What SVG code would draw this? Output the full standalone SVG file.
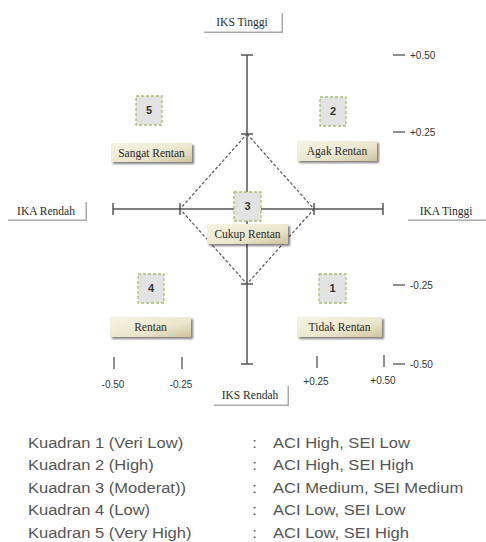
<svg xmlns="http://www.w3.org/2000/svg" width="486" height="542" viewBox="0 0 486 542">
<defs>
<linearGradient id="beige" x1="0" y1="0" x2="1" y2="1">
<stop offset="0" stop-color="#f6f4e4"/>
<stop offset="0.6" stop-color="#ebe6cc"/>
<stop offset="1" stop-color="#cfc3a0"/>
</linearGradient>
<filter id="sh" x="-20%" y="-30%" width="150%" height="180%">
<feGaussianBlur in="SourceAlpha" stdDeviation="1"/>
<feOffset dx="1.5" dy="1.5"/>
<feComponentTransfer><feFuncA type="linear" slope="0.5"/></feComponentTransfer>
<feMerge><feMergeNode/><feMergeNode in="SourceGraphic"/></feMerge>
</filter>
</defs>
<style>
.axis{stroke:#555;stroke-width:1.5;fill:none}
.dash{stroke:#555;stroke-width:1.2;fill:none;stroke-dasharray:3 2}
.albox{fill:#fff;stroke:#fff}
.alsh{fill:none;stroke:#aaa;stroke-width:2}
.lbl{font-family:"Liberation Serif",serif;font-size:11.5px;fill:#2a2a2a;text-anchor:middle}
.qbox{fill:#e3e3e3;stroke:#a8c070;stroke-width:1.3;stroke-dasharray:3 2}
.qnum{font-family:"Liberation Sans",sans-serif;font-size:11px;fill:#333;text-anchor:middle;font-weight:bold}
.cat{fill:url(#beige);filter:url(#sh)}
.sc{font-family:"Liberation Sans",sans-serif;font-size:10px;fill:#333}
.tick{stroke:#444;stroke-width:1.2}
.leg{font-family:"Liberation Sans",Arial,sans-serif;font-size:15.5px;fill:#555}
</style>
<g id="connectors">
<line class="axis" x1="247" y1="55" x2="247" y2="364"/>
<line class="axis" x1="113" y1="209" x2="383" y2="209"/>
<line class="axis" x1="241" y1="55" x2="253" y2="55"/>
<line class="axis" x1="241" y1="364" x2="253" y2="364"/>
<line class="axis" x1="241" y1="134" x2="253" y2="134"/>
<line class="axis" x1="241" y1="284" x2="253" y2="284"/>
<line class="axis" x1="113" y1="203" x2="113" y2="215"/>
<line class="axis" x1="383" y1="203" x2="383" y2="215"/>
<line class="axis" x1="180" y1="203" x2="180" y2="215"/>
<line class="axis" x1="314" y1="203" x2="314" y2="215"/>
<polygon class="dash" points="247,134 314,209 247,284 180,209"/>
</g>
<g id="iks-tinggi">
<polyline class="alsh" points="282,13 282,32 204,32"/>
<rect class="albox" x="203" y="12" width="78" height="19"/>
<text class="lbl" x="242" y="25.5">IKS Tinggi</text>
</g>
<g id="iks-rendah">
<polyline class="alsh" points="288,386 288,405 214,405"/>
<rect class="albox" x="213" y="385" width="74" height="19"/>
<text class="lbl" x="250" y="398.5">IKS Rendah</text>
</g>
<g id="ika-rendah">
<polyline class="alsh" points="86,202 86,220 8,220"/>
<rect class="albox" x="7" y="201" width="78" height="18"/>
<text class="lbl" x="46" y="214.5">IKA Rendah</text>
</g>
<g id="ika-tinggi">
<polyline class="alsh" points="408,220 486,220"/>
<rect class="albox" x="407" y="201" width="79" height="18"/>
<text class="lbl" x="446" y="214.5">IKA Tinggi</text>
</g>
<g id="q5">
<rect class="qbox" x="136" y="96" width="26" height="29"/>
<text class="qnum" x="149" y="114">5</text>
</g>
<g id="q2">
<rect class="qbox" x="320" y="97" width="26" height="29"/>
<text class="qnum" x="333" y="115">2</text>
</g>
<g id="q3">
<rect class="qbox" x="234" y="192" width="27" height="29"/>
<text class="qnum" x="247.5" y="210">3</text>
</g>
<g id="q4">
<rect class="qbox" x="138" y="274" width="26" height="29"/>
<text class="qnum" x="151" y="292">4</text>
</g>
<g id="q1">
<rect class="qbox" x="319" y="274" width="27" height="29"/>
<text class="qnum" x="332.5" y="292">1</text>
</g>
<g id="sangat-rentan">
<rect class="cat" x="111" y="143" width="81" height="19"/>
<text class="lbl" x="151.5" y="156.5">Sangat Rentan</text>
</g>
<g id="agak-rentan">
<rect class="cat" x="297" y="141" width="80" height="20"/>
<text class="lbl" x="337" y="155">Agak Rentan</text>
</g>
<g id="cukup-rentan">
<rect class="cat" x="207" y="224" width="81" height="20"/>
<text class="lbl" x="247.5" y="238">Cukup Rentan</text>
</g>
<g id="rentan">
<rect class="cat" x="110" y="317" width="81" height="20"/>
<text class="lbl" x="150.5" y="331">Rentan</text>
</g>
<g id="tidak-rentan">
<rect class="cat" x="297" y="317" width="85" height="20"/>
<text class="lbl" x="339.5" y="331">Tidak Rentan</text>
</g>
<g id="scale">
<line class="tick" x1="393" y1="55" x2="405" y2="55"/>
<text class="sc" x="410" y="59">+0.50</text>
<line class="tick" x1="393" y1="132" x2="405" y2="132"/>
<text class="sc" x="410" y="136">+0.25</text>
<line class="tick" x1="393" y1="285" x2="405" y2="285"/>
<text class="sc" x="410" y="289">-0.25</text>
<line class="tick" x1="393" y1="364" x2="405" y2="364"/>
<text class="sc" x="410" y="368">-0.50</text>
<line class="tick" x1="114" y1="357" x2="114" y2="369"/>
<line class="tick" x1="182" y1="357" x2="182" y2="369"/>
<line class="tick" x1="317" y1="356" x2="317" y2="368"/>
<line class="tick" x1="384" y1="355" x2="384" y2="367"/>
<text class="sc" x="113" y="388" text-anchor="middle">-0.50</text>
<text class="sc" x="181" y="388" text-anchor="middle">-0.25</text>
<text class="sc" x="316" y="385" text-anchor="middle">+0.25</text>
<text class="sc" x="383" y="384" text-anchor="middle">+0.50</text>
</g>
<g id="legend" transform="scale(1.067,1)">
<text class="leg" x="26.2" y="448">Kuadran 1 (Veri Low)</text>
<text class="leg" x="26.2" y="470.5">Kuadran 2 (High)</text>
<text class="leg" x="26.2" y="493">Kuadran 3 (Moderat))</text>
<text class="leg" x="26.2" y="515.5">Kuadran 4 (Low)</text>
<text class="leg" x="26.2" y="538">Kuadran 5 (Very High)</text>
<text class="leg" x="236.5" y="448">:</text>
<text class="leg" x="236.5" y="470.5">:</text>
<text class="leg" x="236.5" y="493">:</text>
<text class="leg" x="236.5" y="515.5">:</text>
<text class="leg" x="236.5" y="538">:</text>
<text class="leg" x="255.9" y="448">ACI High, SEI Low</text>
<text class="leg" x="255.9" y="470.5">ACI High, SEI High</text>
<text class="leg" x="255.9" y="493">ACI Medium, SEI Medium</text>
<text class="leg" x="255.9" y="515.5">ACI Low, SEI Low</text>
<text class="leg" x="255.9" y="538">ACI Low, SEI High</text>
</g>
</svg>
